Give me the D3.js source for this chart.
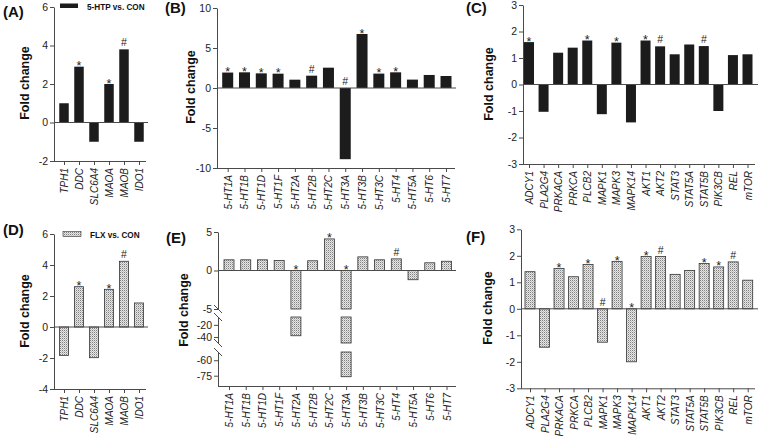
<!DOCTYPE html>
<html>
<head>
<meta charset="utf-8">
<script src="https://cdn.jsdelivr.net/npm/d3@7"></script>
<style>
  body { margin: 0; background: #fff; }
  svg { font-family: "Liberation Sans", Arial, sans-serif; }
</style>
</head>
<body>
<div id="chart"></div>
<script>
// metabolism genes (A, D)
const mmGenes = ["TPH1", "DDC", "SLC6A4", "MAOA", "MAOB", "IDO1"];
const mmHtp = [1.0, 2.9, -1.0, 2.0, 3.8, -1.0];
const mmHtpSig = ["", "*", "", "*", "#", ""];
const mmFlx = [-1.83, 2.6, -1.98, 2.43, 4.24, 1.55];
const mmFlxSig = ["", "*", "", "*", "#", ""];

// receptors (B, E)
const receptors = ["5-HT1A", "5-HT1B", "5-HT1D", "5-HT1F", "5-HT2A", "5-HT2B", "5-HT2C",
  "5-HT3A", "5-HT3B", "5-HT3C", "5-HT4", "5-HT5A", "5-HT6", "5-HT7"];
const recHtp = [1.93, 1.96, 1.83, 1.79, 1.04, 1.54, 2.54, -8.9, 6.75, 1.8, 1.96, 1.05, 1.63, 1.5];
const recHtpSig = ["*", "*", "*", "*", "", "#", "", "#", "*", "*", "*", "", "", ""];
const recFlx = [1.39, 1.39, 1.39, 1.3, -38, 1.26, 4.1, -76, 1.77, 1.39, 1.51, -1.2, 1.0, 1.2];
const recFlxSig = ["", "", "", "", "*", "", "*", "*", "", "", "#", "", "", ""];

// signalling genes (C, F)
const pathway = ["ADCY1", "PLA2G4", "PRKACA", "PRKCA", "PLCB2", "MAPK1", "MAPK3", "MAPK14",
  "AKT1", "AKT2", "STAT3", "STAT5A", "STAT5B", "PIK3CB", "REL", "mTOR"];
const pathHtp = [1.6, -1.03, 1.2, 1.39, 1.66, -1.12, 1.58, -1.43, 1.66, 1.44, 1.14, 1.51, 1.45, -1.0, 1.11, 1.14];
const pathHtpSig = ["*", "", "", "", "*", "", "*", "", "*", "#", "", "", "#", "", "", ""];
const pathFlx = [1.4, -1.45, 1.52, 1.21, 1.67, -1.26, 1.79, -2.0, 1.97, 1.97, 1.3, 1.45, 1.71, 1.58, 1.77, 1.08];
const pathFlxSig = ["", "", "*", "", "*", "#", "*", "*", "*", "#", "", "", "*", "*", "#", ""];

// ticks
const ticksA = [-2, 0, 2, 4, 6];
const ticksB = [-10, -5, 0, 5, 10];
const ticksC = [-3, -2, -1, 0, 1, 2, 3];
const ticksD = [-4, -2, 0, 2, 4, 6];
const ticksF = [-3, -2, -1, 0, 1, 2, 3];
// broken axis in E: each piece has its own ticks
const ticksE = [[5, 0, -5], [-20, -40], [-60, -75]];

const W = 759, H = 436;
const svg = d3.select("#chart").append("svg").attr("width", W).attr("height", H);

// stipple for the FLX bars
const pat = svg.append("defs").append("pattern")
  .attr("id", "dots").attr("patternUnits", "userSpaceOnUse")
  .attr("width", 2).attr("height", 2);
pat.append("rect").attr("width", 2).attr("height", 2).attr("fill", "#e6e6e6");
pat.append("rect").attr("width", 1).attr("height", 1).attr("fill", "#808080");
pat.append("rect").attr("x", 1).attr("y", 1).attr("width", 1).attr("height", 1).attr("fill", "#bdbdbd");

const axisCol = "#4a4a4a";
const textCol = "#222";

function styleAxis(g) {
  g.selectAll("path, line").attr("stroke", axisCol).attr("stroke-width", 1);
  g.selectAll("text").attr("fill", textCol).style("font-size", "10.5px");
}

function xAxis(g, x, yBottom, x0, x1) {
  const ax = g.append("g").attr("transform", `translate(0,${yBottom})`)
    .call(d3.axisBottom(x).tickSize(4).tickSizeOuter(0));
  ax.select(".domain").remove();
  ax.append("line").attr("x1", x0).attr("x2", x1).attr("y1", 0.5).attr("y2", 0.5);
  styleAxis(ax);
  ax.selectAll("text")
    .attr("transform", "rotate(-90)")
    .attr("text-anchor", "end")
    .attr("x", -7).attr("y", 0).attr("dy", "0.35em")
    .style("font-style", "italic").style("font-size", "10px");
}

function mark(g, x, y, s) {
  g.append("text").attr("x", x).attr("y", s === "*" ? y + 3.5 : y - 3)
    .attr("text-anchor", "middle").attr("fill", "#1a1a1a")
    .style("font-size", s === "*" ? "12.5px" : "10.5px")
    .text(s);
}

function labels(g, p) {
  g.append("text").attr("x", p.lab[0]).attr("y", p.lab[1])
    .style("font-size", "15px").style("font-weight", "bold").attr("fill", "#111").text(p.name);
  g.append("text")
    .attr("transform", `translate(${p.titleX},${p.titleY}) rotate(-90)`)
    .attr("text-anchor", "middle")
    .style("font-size", "12.5px").style("font-weight", "bold").attr("fill", "#111")
    .text("Fold change");
}

function panel(p) {
  const g = svg.append("g");
  const y = d3.scaleLinear().domain(p.yDom).range(p.yRange);
  const x = d3.scalePoint().domain(p.genes).range([p.xFirst, p.xLast]);
  const fill = p.flx ? "url(#dots)" : "#1c1c1c";

  g.selectAll("rect.bar").data(p.vals).enter().append("rect")
    .attr("class", "bar")
    .attr("x", (d, i) => x(p.genes[i]) - p.barW / 2)
    .attr("width", p.barW)
    .attr("y", d => y(Math.max(0, d)))
    .attr("height", d => Math.abs(y(d) - y(0)))
    .attr("fill", fill)
    .attr("stroke", p.flx ? "#333" : "none").attr("stroke-width", 0.8);

  g.append("line").attr("x1", p.axisX).attr("x2", p.zeroEnd)
    .attr("y1", y(0)).attr("y2", y(0)).attr("stroke", axisCol);

  p.sig.forEach((s, i) => {
    if (s) mark(g, x(p.genes[i]), y(Math.max(0, p.vals[i])), s);
  });

  const ay = g.append("g").attr("transform", `translate(${p.axisX},0)`)
    .call(d3.axisLeft(y).tickValues(p.ticks).tickSize(4).tickSizeOuter(0).tickPadding(2)
      .tickFormat(d => String(d)));
  styleAxis(ay);

  xAxis(g, x, p.yRange[0], p.axisX, p.xEnd);
  labels(g, p);

  if (p.legend) {
    g.append("rect").attr("x", p.legend[0]).attr("y", p.legend[1]).attr("width", 18).attr("height", p.flx ? 5 : 4.5)
      .attr("fill", fill).attr("stroke", p.flx ? "#333" : "none").attr("stroke-width", 0.6);
    g.append("text").attr("x", p.legend[0] + 27).attr("y", p.legend[1] + 6)
      .style("font-size", "8.2px").style("font-weight", "bold").attr("fill", "#111")
      .text(p.legendText);
  }
}

panel({ name: "(A)", lab: [3, 17], titleX: 29, titleY: 83,
  genes: mmGenes, vals: mmHtp, sig: mmHtpSig, ticks: ticksA,
  yDom: [-2, 6], yRange: [161, 7], axisX: 54, xFirst: 64, xLast: 139, xEnd: 146, zeroEnd: 148,
  barW: 9.5, flx: false, legend: [60, 3.5], legendText: "5-HTP vs. CON" });

panel({ name: "(B)", lab: [165, 13], titleX: 195, titleY: 87,
  genes: receptors, vals: recHtp, sig: recHtpSig, ticks: ticksB,
  yDom: [-10, 10], yRange: [168, 8], axisX: 217, xFirst: 227.7, xLast: 446, xEnd: 455, zeroEnd: 456,
  barW: 11, flx: false });

panel({ name: "(C)", lab: [466, 13], titleX: 493, titleY: 84,
  genes: pathway, vals: pathHtp, sig: pathHtpSig, ticks: ticksC,
  yDom: [-3, 3], yRange: [164, 5], axisX: 523, xFirst: 529, xLast: 747.5, xEnd: 755, zeroEnd: 758,
  barW: 10, flx: false });

panel({ name: "(D)", lab: [3, 235], titleX: 29, titleY: 311,
  genes: mmGenes, vals: mmFlx, sig: mmFlxSig, ticks: ticksD,
  yDom: [-4, 6], yRange: [389, 234], axisX: 54, xFirst: 64, xLast: 139, xEnd: 146, zeroEnd: 148,
  barW: 9, flx: true, legend: [63, 231.5], legendText: "FLX vs. CON" });

panel({ name: "(F)", lab: [466, 242], titleX: 492, titleY: 308,
  genes: pathway, vals: pathFlx, sig: pathFlxSig, ticks: ticksF,
  yDom: [-3, 3], yRange: [388.3, 229.3], axisX: 521, xFirst: 530, xLast: 747.7, xEnd: 755, zeroEnd: 758,
  barW: 10, flx: true });

// panel E with a broken y axis
(function () {
  const g = svg.append("g");
  const axisX = 218;
  const segs = [
    d3.scaleLinear().domain([5, -5]).range([232, 309]),
    d3.scaleLinear().domain([-7, -50]).range([317, 343]),
    d3.scaleLinear().domain([-52, -85]).range([352, 386])
  ];
  const x = d3.scalePoint().domain(receptors).range([229, 446.5]);
  const bw = 10;
  const y0 = segs[0](0);

  recFlx.forEach((v, i) => {
    segs.forEach(s => {
      const [hi, lo] = s.domain();
      const a = Math.min(Math.max(0, v), hi);
      const b = Math.max(Math.min(0, v), lo);
      if (a <= b) return;
      g.append("rect")
        .attr("x", x(receptors[i]) - bw / 2).attr("width", bw)
        .attr("y", s(a)).attr("height", s(b) - s(a))
        .attr("fill", "url(#dots)").attr("stroke", "#333").attr("stroke-width", 0.8);
    });
  });

  g.append("line").attr("x1", axisX).attr("x2", 456).attr("y1", y0).attr("y2", y0).attr("stroke", axisCol);

  recFlxSig.forEach((s, i) => {
    if (s) mark(g, x(receptors[i]), segs[0](Math.max(0, recFlx[i])), s);
  });

  segs.forEach((s, k) => {
    const ay = g.append("g").attr("transform", `translate(${axisX},0)`)
      .call(d3.axisLeft(s).tickValues(ticksE[k]).tickSize(4).tickSizeOuter(0).tickPadding(2)
        .tickFormat(d => String(d)));
    styleAxis(ay);
  });

  // break marks
  [309, 317, 343, 352].forEach(yb => {
    g.append("line").attr("x1", axisX - 4).attr("y1", yb - 4).attr("x2", axisX + 4).attr("y2", yb + 4)
      .attr("stroke", axisCol).attr("stroke-width", 1);
  });

  xAxis(g, x, 386, axisX, 456);
  labels(g, { name: "(E)", lab: [166, 243], titleX: 188, titleY: 310 });
})();
</script>
</body>
</html>
